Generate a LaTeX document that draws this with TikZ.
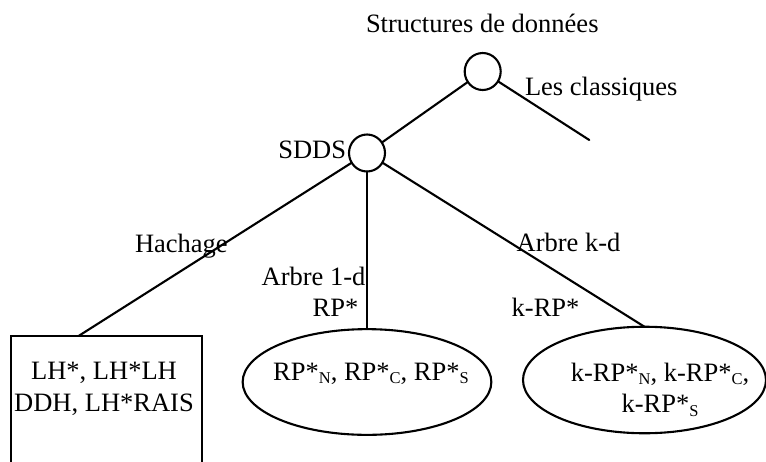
\documentclass[tikz,border=0pt]{standalone}
\usepackage{fontspec}
\setmainfont{Liberation Serif}
\usetikzlibrary{shapes.geometric}
% lowered index in the text font
\newcommand\lowidx[1]{\raisebox{-3.5pt}{\fontsize{16.5}{16.5}\selectfont #1}}
\begin{document}
\begin{tikzpicture}[x=1pt,y=-1pt,
  every node/.style={font=\fontsize{26.5}{31.7}\selectfont, inner sep=0pt, outer sep=0pt},
  treeline/.style={line width=2.1pt, line cap=round},
  junction/.style={draw, ellipse, line width=2.1pt, minimum width=36, minimum height=37},
  leaf/.style={draw, ellipse, line width=2.1pt},
  hashbox/.style={draw, rectangle, line width=2.1pt},
  lbl/.style={anchor=base west}]
\useasboundingbox (0,0) rectangle (766,461);
\clip (0,0) rectangle (766,461);

% root of the classification
\node[lbl] (title) at (366,32.3) {Structures de données};
\node[junction] (root) at (482.7,71.5) {};
\node[lbl] (classic) at (525,95) {Les classiques};
\coordinate (classicend) at (589.3,140);

% SDDS branch
\node[junction] (sdds) at (367,153) {};
\node[lbl] (sddslbl) at (278.3,158.3) {SDDS};

% hashing family
\node[hashbox, minimum width=190.7, minimum height=170, anchor=north] (hash) at (106.3,335.7) {};
\coordinate (hashtop) at (79,335.7);
\node[align=center] (hashtxt) at (104,388.8) {LH*, LH*LH\\DDH, LH*RAIS};

% 1-d tree family
\node[leaf, minimum width=248.7, minimum height=105.7] (rp) at (367,382) {};
\node[anchor=base] (rptxt) at (371,380) {RP*\lowidx{N}, RP*\lowidx{C}, RP*\lowidx{S}};

% k-d tree family
\node[leaf, minimum width=243, minimum height=106.5] (krp) at (644.5,380) {};
\node[align=center] (krptxt) at (660,389.5) {k-RP*\lowidx{N}, k-RP*\lowidx{C},\\k-RP*\lowidx{S}};

% branch labels
\node[lbl] (hachage) at (135,252.7) {Hachage};
\node[lbl] (arbre1) at (261.7,285) {Arbre 1-d};
\node[lbl] (rpstar) at (312.6,316.7) {RP*};
\node[lbl] (arbrek) at (516.7,251.7) {Arbre k-d};
\node[lbl] (krpstar) at (511.7,316.7) {k-RP*};

% connectors
\draw[treeline] (root) -- (sdds);
\draw[treeline] (root) -- (classicend);
\draw[treeline] (sdds) -- (hashtop);
\draw[treeline] (sdds) -- (rp);
\draw[treeline] (sdds) -- (krp.north);
\end{tikzpicture}
\end{document}
